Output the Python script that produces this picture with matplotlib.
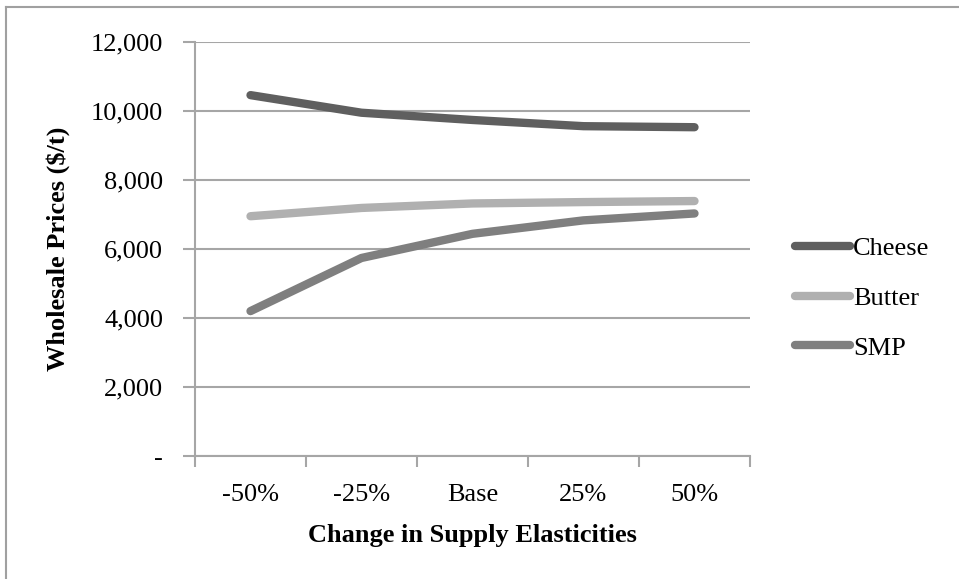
import matplotlib
matplotlib.use("Agg")
import matplotlib.pyplot as plt
from matplotlib.lines import Line2D

# wholesale prices ($/t) under each supply elasticity scenario
scenarios = ["-50%", "-25%", "Base", "25%", "50%"]
cheese = [10460, 9950, 9740, 9560, 9530]
butter = [6950, 7190, 7320, 7360, 7390]
smp = [4200, 5740, 6440, 6830, 7030]
series_names = ["Cheese", "Butter", "SMP"]
series_colors = ["#5f5f5f", "#b0b0b0", "#7f7f7f"]
y_ticks = [0, 2000, 4000, 6000, 8000, 10000, 12000]

plt.rcParams["font.family"] = ["Liberation Serif", "DejaVu Serif"]

W, H = 959, 579
fig = plt.figure(figsize=(W / 100, H / 100), dpi=100)
ax = fig.add_axes([195 / W, 1 - 456 / H, 555 / W, 414 / H])

x = list(range(len(scenarios)))
for values, name, color in zip([cheese, butter, smp], series_names, series_colors):
    ax.plot(x, values, color=color, lw=6, solid_capstyle="round",
            solid_joinstyle="round", label=name)

grid_color = "#a6a6a6"
ax.set_xlim(-0.5, len(scenarios) - 0.5)
ax.set_ylim(0, 12000)
ax.set_yticks(y_ticks)
ax.set_yticklabels(["-" if v == 0 else f"{v:,}" for v in y_ticks])
ax.yaxis.grid(True, color=grid_color, lw=1.5)
ax.set_axisbelow(True)

# category labels sit between tick marks, like a spreadsheet chart
ax.set_xticks([i - 0.5 for i in range(len(scenarios) + 1)])
ax.set_xticklabels([])
ax.set_xticks(x, minor=True)
ax.set_xticklabels(scenarios, minor=True)
ax.tick_params(axis="x", which="major", length=8, width=1.5, color=grid_color, direction="out")
ax.tick_params(axis="x", which="minor", length=0, pad=20, labelsize=19)
ax.tick_params(axis="y", length=9, width=1.5, color=grid_color, pad=14, labelsize=19)

for side in ["top", "right"]:
    ax.spines[side].set_visible(False)
for side in ["left", "bottom"]:
    ax.spines[side].set_color(grid_color)
    ax.spines[side].set_linewidth(1.5)

ax.set_ylabel("Wholesale Prices ($/t)", fontsize=19, fontweight="bold", labelpad=15)
ax.set_xlabel("Change in Supply Elasticities", fontsize=19, fontweight="bold", labelpad=13)

leg = fig.legend(*ax.get_legend_handles_labels(), loc="center left",
                 bbox_to_anchor=(795 / W, 1 - 298 / H), frameon=False,
                 fontsize=19, handlelength=2.1, handletextpad=0.1, labelspacing=1.0,
                 borderaxespad=0, borderpad=0)
for line in leg.get_lines():
    line.set_solid_capstyle("round")
    line.set_linewidth(6)

# thin frame along the top and left edges of the figure
fig.add_artist(Line2D([6 / W, 6 / W], [0, 1 - 7 / H], transform=fig.transFigure,
                      color="#a0a0a0", lw=1.5))
fig.add_artist(Line2D([6 / W, 1], [1 - 7 / H, 1 - 7 / H], transform=fig.transFigure,
                      color="#a0a0a0", lw=1.5))

fig.savefig("out.png", dpi=100, facecolor="white")
